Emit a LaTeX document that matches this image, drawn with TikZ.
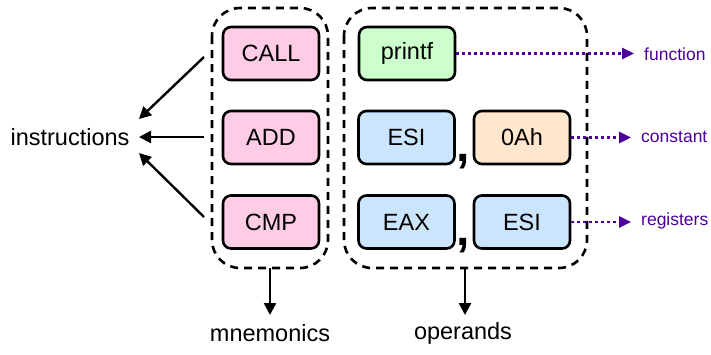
\documentclass[tikz,border=0pt]{standalone}
\usepackage{fontspec}
\setmainfont{Liberation Sans}
\usetikzlibrary{arrows.meta}
\definecolor{mnfill}{HTML}{FFCCE6}
\definecolor{fnfill}{HTML}{CCFFCC}
\definecolor{regfill}{HTML}{CCE5FF}
\definecolor{cstfill}{HTML}{FFE6CC}
\definecolor{tagcol}{HTML}{4C0099}
\tikzset{
  opbox/.style={draw=black, line width=2.6pt, rounded corners=8pt,
    minimum width=96pt, minimum height=53pt, inner sep=0pt,
    font=\fontsize{23.5}{26}\selectfont},
  group/.style={draw=black, line width=2.6pt, dash pattern=on 8pt off 6pt,
    rounded corners=28pt},
  solidarrow/.style={line width=2.4pt, -{Triangle[length=12pt,width=12pt]}},
  tagarrow/.style={draw=tagcol, line width=2.6pt, dash pattern=on 2.5pt off 3.5pt,
    -{Triangle[length=12pt,width=11pt]}},
  taglabel/.style={text=tagcol, anchor=west, inner sep=0pt,
    font=\fontsize{17.5}{20}\selectfont},
  bigtext/.style={font=\fontsize{23.5}{26}\selectfont},
  sep/.style={font=\fontsize{48}{48}\selectfont\bfseries, inner sep=0pt, anchor=base}
}
\begin{document}
\begin{tikzpicture}[x=1pt,y=-1pt]
\useasboundingbox (0,0) rectangle (711,354);

% dashed groups
\draw[group] (212,8) rectangle (328,268);
\draw[group] (344,8) rectangle (587,268);
\coordinate (mnb) at (270,268);
\coordinate (opb) at (465,268);

% mnemonics
\node[opbox, fill=mnfill] (call) at (271,53.5) {CALL};
\node[opbox, fill=mnfill] (add)  at (271,137.5) {ADD};
\node[opbox, fill=mnfill] (cmp)  at (271,222) {CMP};

% operands
\node[opbox, fill=fnfill]  (printf) at (407,53.5) {printf};
\node[opbox, fill=regfill] (esia)   at (406.5,137.5) {ESI};
\node[opbox, fill=cstfill] (const)  at (522,137.5) {0Ah};
\node[opbox, fill=regfill] (eax)    at (406.5,222) {EAX};
\node[opbox, fill=regfill] (esib)   at (522,222) {ESI};
\node[sep] (c1) at (463.5,161) {,};
\node[sep] (c2) at (463.5,245) {,};

% operand kinds
\node[taglabel] (fn)  at (644,54)  {function};
\node[taglabel] (cst) at (641,137) {constant};
\node[taglabel] (reg) at (641,221) {registers};
\draw[tagarrow] (printf.east) -- (634,53.5);
\draw[tagarrow] (const.east) -- (631,137.5);
\draw[tagarrow] (esib.east) -- (631,222);

% instructions
\node[bigtext, inner sep=0pt] (instr) at (70,137) {instructions};
\coordinate (ia) at (204,57);
\coordinate (ib) at (204,137);
\coordinate (ic) at (204,217);
\draw[solidarrow] (ia) -- (139,119);
\draw[solidarrow] (ib) -- (139,137);
\draw[solidarrow] (ic) -- (139,153);

% group labels
\node[bigtext, inner sep=0pt] (mn) at (270,333) {mnemonics};
\node[bigtext, inner sep=0pt] (op) at (463,333) {operands};
\draw[solidarrow] (mnb) -- (270,315);
\draw[solidarrow] (opb) -- (465,315);
\end{tikzpicture}
\end{document}
